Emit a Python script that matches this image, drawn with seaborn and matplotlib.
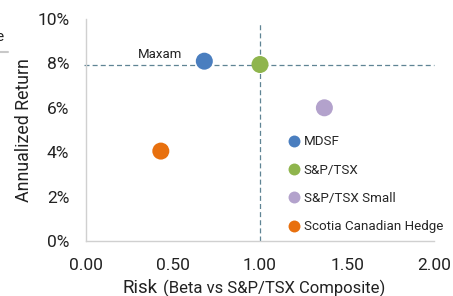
"""Risk vs annualized return scatter (beta vs S&P/TSX Composite)."""

import matplotlib.pyplot as plt
import pandas as pd
import seaborn as sns
from matplotlib.lines import Line2D
from matplotlib.ticker import FuncFormatter

funds = ["MDSF", "S&P/TSX", "S&P/TSX Small", "Scotia Canadian Hedge"]
beta = [0.68, 1.00, 1.37, 0.43]
annual_return = [0.081, 0.0795, 0.060, 0.0405]
colors = ["#4a7ebf", "#8fb54d", "#b3a2cc", "#e8700e"]

x_ticks = [0.0, 0.5, 1.0, 1.5, 2.0]
y_ticks = [0.0, 0.02, 0.04, 0.06, 0.08, 0.10]

df = pd.DataFrame({"fund": funds, "beta": beta, "ret": annual_return})

sns.set_theme(style="white")
plt.rcParams["font.family"] = ["Roboto", "DejaVu Sans"]

fig = plt.figure(figsize=(4.53, 2.96), dpi=100)
ax = fig.add_axes([86 / 453, 55 / 296, 348 / 453, 222 / 296])

ax.axhline(0.0795, xmin=-0.006, color="#5f8494", lw=0.9, ls=(0, (4, 2.5)), zorder=1,
           clip_on=False)
ax.axvline(1.0, ymax=0.98, color="#5f8494", lw=0.9, ls=(0, (4, 2.5)), zorder=1)

sns.scatterplot(data=df, x="beta", y="ret", hue="fund", palette=colors,
                s=150, edgecolor="none", zorder=3, ax=ax)

ax.text(0.30, 0.081, "Maxam", fontsize=9.5, color="#222222", ha="left", va="bottom")

ax.set_xlim(0, 2)
ax.set_ylim(0, 0.10)
ax.set_xticks(x_ticks)
ax.set_yticks(y_ticks)
ax.xaxis.set_major_formatter(FuncFormatter(lambda v, _: f"{v:.2f}"))
ax.yaxis.set_major_formatter(FuncFormatter(lambda v, _: f"{v:.0%}"))
ax.tick_params(axis="both", labelsize=12.5, colors="#222222", length=0)
ax.tick_params(axis="x", pad=12)
ax.tick_params(axis="y", pad=12)

sns.despine(ax=ax)
for side in ["left", "bottom"]:
    ax.spines[side].set_color("#d0d0d0")
    ax.spines[side].set_linewidth(1.0)

ax.set_ylabel("Annualized Return", fontsize=12.8, color="#222222", labelpad=3)
ax.set_xlabel("")
fig.text(122 / 453, 1 - 293 / 296, "Risk", fontsize=13.5, color="#222222",
         ha="left", va="baseline")
fig.text(163 / 453, 1 - 293 / 296, "(Beta vs S&P/TSX Composite)", fontsize=12,
         color="#222222", ha="left", va="baseline")

handles, labels = ax.get_legend_handles_labels()
ax.legend(handles, labels, loc="upper left", bbox_to_anchor=(0.545, 0.50),
          frameon=False, fontsize=9.6, handletextpad=-0.3, labelspacing=1.15,
          markerscale=0.7, borderaxespad=0)

# fragment of a neighbouring panel at the left edge
fig.text(-5 / 453, 1 - 41 / 296, "e", fontsize=11, color="#222222", ha="left",
         va="baseline")
fig.add_artist(Line2D([0, 8 / 453], [1 - 52 / 296] * 2, color="#c8c8c8", lw=1.5))

fig.savefig("out.png", dpi=100)
